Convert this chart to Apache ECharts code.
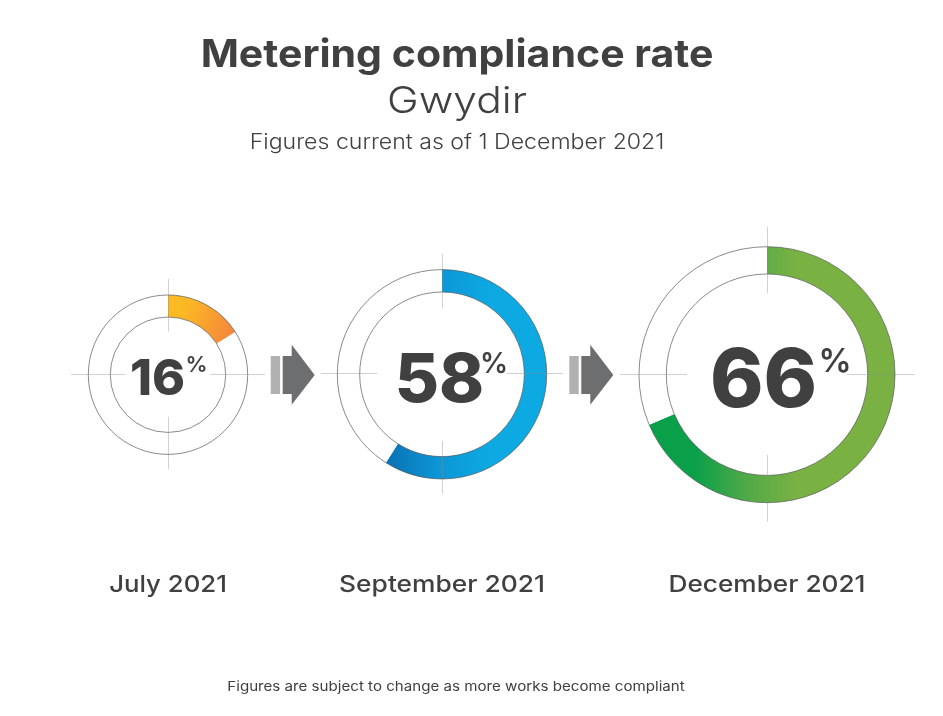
<!DOCTYPE html>
<html lang="en">
<head>
    <meta charset="UTF-8">
    <title>Metering compliance rate</title>
    <style type="text/css">
        body{
            margin: 0px;
            padding: 0px;
            background: #fff;
        }
        #chart{
            width: 943px;
            height: 716px;
        }
    </style>
</head>
<body>
    <div id="chart"></div>
    <script src="https://cdn.jsdelivr.net/npm/echarts@6/dist/echarts.min.js"></script>
    <script type="text/javascript">
        // data
        var months = ['July 2021', 'September 2021', 'December 2021'];
        var rates = [16, 58, 66];
        // share of the ring that is actually filled
        var arcShares = [16, 59, 68.6];
        var titleText = 'Metering compliance rate';
        var subTitleText = 'Gwydir';
        var currentText = 'Figures current as of 1 December 2021';
        var footerText = 'Figures are subject to change as more works become compliant';

        var textColor = '#404041';
        var font = 'Inter';
        var lineColor = 'rgba(140,140,140,0.4)';

        // ring layout, one per month
        var rings = [
            {cx: 168, cy: 374.7, outer: 79.7, inner: 57.7, hGap: [125.5, 210], hEnd: [71, 265], vGap: [331.5, 416.7], vEnd: [278.7, 469],
             size: 50, numX: 157.5, numY: 379.5, pctX: 196.5, pctY: 365.5, pctSize: 22, monthScale: 1.12,
             grad: [125, 300, 235, 345], stops: ['#fbbf20', '#fbb824', '#f5803f']},
            {cx: 442, cy: 374.3, outer: 104.7, inner: 82.3, hGap: [377, 507], hEnd: [321, 563], vGap: [308, 441], vEnd: [254, 494],
             size: 68, numX: 439.5, numY: 382, pctX: 494, pctY: 364.5, pctSize: 28, monthScale: 1.146,
             grad: [390, 0, 490, 0], stops: ['#0a74b6', '#0c97d6', '#0ca9e2']},
            {cx: 767, cy: 374.7, outer: 128, inner: 100.7, hGap: [687, 847], hEnd: [620, 915], vGap: [293, 455], vEnd: [227, 521.5],
             size: 81, numX: 763.5, numY: 383, pctX: 835, pctY: 362.5, pctSize: 33, monthScale: 1.14,
             grad: [695, 0, 795, 0], stops: ['#0aa04a', '#4fa948', '#79b143']}
        ];
        var arrows = [270.7, 569.3];

        var series = [];
        var graphics = [];

        function addText(str, x, y, size, weight, scale) {
            graphics.push({
                type: 'text', z: 20, silent: true,
                x: x, y: y, scaleX: scale || 1,
                style: {
                    text: str, x: 0, y: 0, fill: textColor, align: 'center', verticalAlign: 'middle',
                    font: weight + ' ' + size + 'px ' + font
                }
            });
        }
        function addLine(x1, y1, x2, y2) {
            graphics.push({
                type: 'line', z: 10, silent: true,
                shape: {x1: x1, y1: y1, x2: x2, y2: y2},
                style: {stroke: lineColor, lineWidth: 1}
            });
        }
        function addCircle(cx, cy, r) {
            graphics.push({
                type: 'circle', z: 9, silent: true,
                shape: {cx: cx, cy: cy, r: r},
                style: {fill: null, stroke: '#58595b', lineWidth: 0.7}
            });
        }

        rings.forEach(function (r, i) {
            series.push({
                type: 'pie',
                silent: true,
                animation: false,
                center: [r.cx, r.cy],
                radius: [r.inner, r.outer],
                startAngle: 90,
                label: {show: false},
                labelLine: {show: false},
                itemStyle: {borderWidth: 0},
                data: [
                    {
                        value: arcShares[i],
                        itemStyle: {
                            color: new echarts.graphic.LinearGradient(r.grad[0], r.grad[1], r.grad[2], r.grad[3], [
                                {offset: 0, color: r.stops[0]},
                                {offset: 0.5, color: r.stops[1]},
                                {offset: 1, color: r.stops[2]}
                            ], true)
                        }
                    },
                    {value: 100 - arcShares[i], itemStyle: {color: '#fff'}}
                ]
            });
            addCircle(r.cx, r.cy, r.outer);
            addCircle(r.cx, r.cy, r.inner);
            // crosshair
            var y = Math.round(r.cy) - 0.5;
            var x = Math.round(r.cx) + 0.5;
            addLine(r.hEnd[0], y, r.hGap[0], y);
            addLine(r.hGap[1], y, r.hEnd[1], y);
            addLine(x, r.vEnd[0], x, r.vGap[0]);
            addLine(x, r.vGap[1], x, r.vEnd[1]);
            // centre figure
            addText(String(rates[i]), r.numX, r.numY, r.size, 800);
            addText('%', r.pctX, r.pctY, r.pctSize, 600);
            addText(months[i], r.cx, 585, 23, 500, r.monthScale);
        });

        arrows.forEach(function (x) {
            graphics.push({
                type: 'rect', z: 10, silent: true,
                shape: {x: x, y: 356, width: 9.4, height: 38},
                style: {fill: '#b1b1b1'}
            });
            graphics.push({
                type: 'polygon', z: 10, silent: true,
                shape: {points: [[x + 12, 356], [x + 21, 356], [x + 21, 344.7], [x + 44, 375], [x + 21, 404.7], [x + 21, 394], [x + 12, 394]]},
                style: {fill: '#6d6e70'}
            });
        });

        addText(titleText, 457, 56, 38, 700, 1.08);
        addText(subTitleText, 457, 102, 37, 300, 1.15);
        addText(currentText, 457, 143, 21, 300, 1.1);
        addText(footerText, 456, 686.5, 13.5, 400, 1.12);

        var myChart = echarts.init(document.getElementById('chart'));
        myChart.setOption({
            animation: false,
            backgroundColor: '#fff',
            series: series,
            graphic: {elements: graphics}
        });
    </script>
</body>
</html>
